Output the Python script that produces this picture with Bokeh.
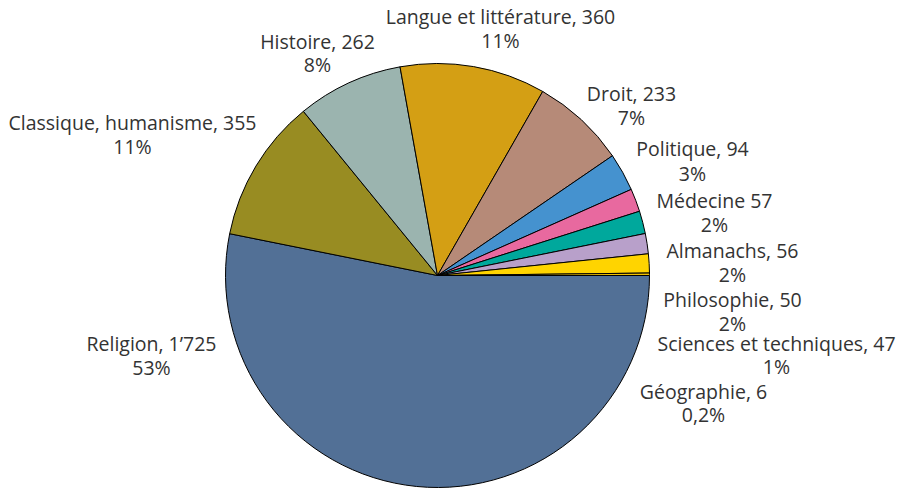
import math
from bokeh.plotting import figure
from bokeh.models import Range1d, ColumnDataSource
from bokeh.embed import file_html
from bokeh.resources import INLINE
from bokeh.core.properties import value

# ---- data ----
categories = ["Religion", "Classique, humanisme", "Histoire", "Langue et littérature",
              "Droit", "Politique", "Médecine", "Almanachs", "Philosophie",
              "Sciences et techniques", "Géographie"]
counts = [1725, 355, 262, 360, 233, 94, 57, 56, 50, 47, 6]
name_labels = ["Religion, 1’725", "Classique, humanisme, 355", "Histoire, 262",
               "Langue et littérature, 360", "Droit, 233", "Politique, 94", "Médecine 57",
               "Almanachs, 56", "Philosophie, 50", "Sciences et techniques, 47", "Géographie, 6"]
percent_labels = ["53%", "11%", "8%", "11%", "7%", "3%", "2%", "2%", "2%", "1%", "0,2%"]

# ---- styles / layout ----
colors = ["#527096", "#988C22", "#9BB4AF", "#D49F14", "#B68A78", "#4592CF",
          "#E8699F", "#00A89C", "#B8A0CA", "#FFD400", "#F0C000"]
# label anchor (screen px): centre x, baseline of line 1, baseline of line 2
label_layout = [(151, 343, 367), (132, 122, 146), (317, 41, 64), (500, 16, 40),
                (631, 93, 117), (692, 148, 173), (714, 200, 224), (732, 250, 274),
                (732, 299, 323), (776, 343, 366), (703, 391, 414)]

W, H = 900, 488


def sy(y):
    return H - y


cx, cy, r = 437, sy(275), 212

total = sum(counts)
starts, ends = [], []
acc = 0
for c in counts:
    starts.append(-acc / total * 2 * math.pi)
    acc += c
    ends.append(-acc / total * 2 * math.pi)

src = ColumnDataSource(dict(start=starts, end=ends, color=colors, cat=categories,
                            x=[cx] * len(counts), y=[cy] * len(counts)))

p = figure(width=W, height=H, x_range=Range1d(0, W), y_range=Range1d(0, H),
           output_backend="svg", toolbar_location=None, min_border=0,
           x_axis_location=None, y_axis_location=None)
p.grid.visible = False
p.outline_line_color = None
p.background_fill_color = "white"
p.border_fill_color = "white"

p.wedge(x="x", y="y", radius=r, start_angle="start", end_angle="end", direction="clock",
        fill_color="color", line_color="black", line_width=1, source=src)

tsrc = ColumnDataSource(dict(
    x=[l[0] for l in label_layout],
    y1=[sy(l[1]) for l in label_layout],
    y2=[sy(l[2]) for l in label_layout],
    t1=name_labels, t2=percent_labels))

for ycol, tcol in (("y1", "t1"), ("y2", "t2")):
    p.text(x="x", y=ycol, text=tcol, source=tsrc, text_align="center",
           text_baseline="alphabetic", text_font=value("Open Sans"),
           text_font_size="19.5px", text_color="#333333")

open("out.html", "w").write(file_html(p, INLINE))
